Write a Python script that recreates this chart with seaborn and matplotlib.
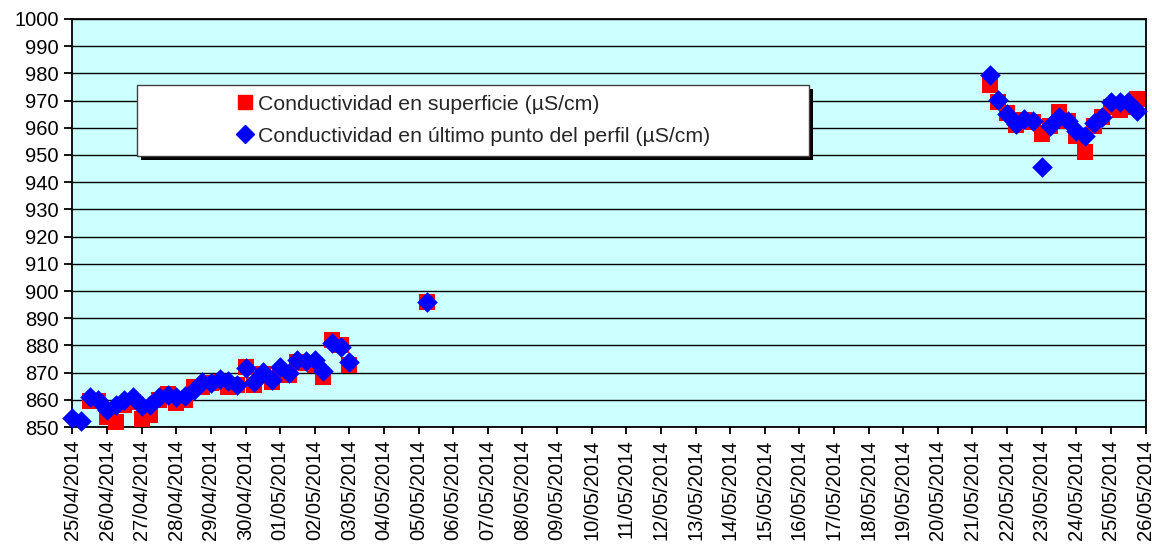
"""Conductividad en superficie y en el último punto del perfil, abril-mayo 2014."""
import matplotlib
matplotlib.use("Agg")
import matplotlib.pyplot as plt
import matplotlib.dates as mdates
from matplotlib.lines import Line2D
from matplotlib.patches import Rectangle
import numpy as np
import pandas as pd
import seaborn as sns

sns.set_theme(style="ticks")
plt.rcParams["font.family"] = ["Liberation Sans", "DejaVu Sans"]
plt.rcParams["font.size"] = 14.5
plt.rcParams["xtick.labelsize"] = 14.5
plt.rcParams["ytick.labelsize"] = 14.5
plt.rcParams["axes.linewidth"] = 1.3

# Sampling every 6 h in three campaigns.
t_left = pd.date_range("2014-04-25 00:00", periods=33, freq="6h")
t_mid = pd.date_range("2014-05-05 06:00", periods=1, freq="6h")
t_right = pd.date_range("2014-05-21 12:00", periods=18, freq="6h")

sup_left = [np.nan, np.nan, 859.7, 859.4, 853.8, 851.9, 858.1, 859.3, 852.8, 854.4,
            859.9, 862.1, 858.7, 859.9, 864.8, 864.8, 866.1, 866.7, 864.6, 865.4,
            872.2, 865.4, 869.5, 866.7, 869.1, 869.1, 874.0, 873.4, 872.8, 868.5,
            882.0, 880.1, 872.8]
fon_left = [853.2, 852.3, 861.1, 859.9, 856.2, 858.1, 859.9, 861.1, 857.7, 858.1,
            860.9, 861.8, 860.9, 861.4, 863.6, 866.7, 866.1, 867.5, 867.0, 865.4,
            871.6, 866.7, 870.3, 867.3, 872.2, 870.0, 874.6, 874.3, 874.6, 870.7,
            881.0, 879.5, 874.0]
sup_mid = [896.0]
fon_mid = [896.0]
sup_right = [975.7, 969.6, 965.6, 961.0, 962.9, 962.2, 957.7, 960.5, 965.9, 962.6,
             957.0, 951.2, 960.7, 964.1, 967.8, 966.5, 967.5, 970.5]
fon_right = [979.4, 970.2, 965.1, 961.4, 963.1, 962.6, 945.5, 960.7, 964.1, 962.6,
             958.9, 957.0, 961.9, 964.1, 969.6, 969.6, 969.6, 966.3]

label_sup = "Conductividad en superficie (µS/cm)"
label_fon = "Conductividad en último punto del perfil (µS/cm)"

df = pd.DataFrame({
    "fecha": list(t_left) + list(t_mid) + list(t_right),
    "superficie": sup_left + sup_mid + sup_right,
    "fondo": fon_left + fon_mid + fon_right,
})

fig = plt.figure(figsize=(11.52, 5.5), dpi=100)
ax = fig.add_axes([0.0629, 0.2236, 0.9315, 0.7419])
ax.set_facecolor("#CCFFFF")

sns.scatterplot(data=df, x="fecha", y="superficie", ax=ax, marker="s",
                color="#FF0000", s=117, linewidth=0, clip_on=False, zorder=3)
sns.scatterplot(data=df, x="fecha", y="fondo", ax=ax, marker="D",
                color="#0000FF", s=110, linewidth=0, clip_on=False, zorder=4)

ax.set_xlim(pd.Timestamp("2014-04-25"), pd.Timestamp("2014-05-26"))
ax.set_ylim(850, 1000)
ax.set_yticks(range(850, 1001, 10))
ax.xaxis.set_major_locator(mdates.DayLocator())
ax.xaxis.set_major_formatter(mdates.DateFormatter("%d/%m/%Y"))
ax.tick_params(axis="x", rotation=90, length=5, width=1.3, pad=4, colors="black")
ax.tick_params(axis="y", length=6, width=1.3, pad=4, colors="black")
ax.set_xlabel("")
ax.set_ylabel("")

ax.yaxis.grid(True, color="black", linewidth=1)
ax.set_axisbelow(True)
for s in ax.spines.values():
    s.set_visible(True)
    s.set_color("black")

# Legend box with a shadow, like the spreadsheet one.
x0, y0, w, h = 0.0601, 0.6630, 0.6263, 0.1752
ax.add_patch(Rectangle((x0 + 0.0037, y0 - 0.0098), w, h, transform=ax.transAxes,
                       facecolor="black", edgecolor="none", zorder=5))
ax.add_patch(Rectangle((x0, y0), w, h, transform=ax.transAxes,
                       facecolor="white", edgecolor="#404040", lw=1, zorder=6))
handles = [
    Line2D([], [], ls="none", marker="s", color="#FF0000", markersize=10, label=label_sup),
    Line2D([], [], ls="none", marker="D", color="#0000FF", markersize=9, label=label_fon),
]
leg = ax.legend(handles=handles, loc="center left", bbox_to_anchor=(0.153, 0.752),
                frameon=False, fontsize=15.3, handlelength=0.8, handletextpad=0.2,
                borderpad=0, borderaxespad=0, labelspacing=0.62)
leg.set_zorder(7)

fig.savefig("out.png", dpi=100)
